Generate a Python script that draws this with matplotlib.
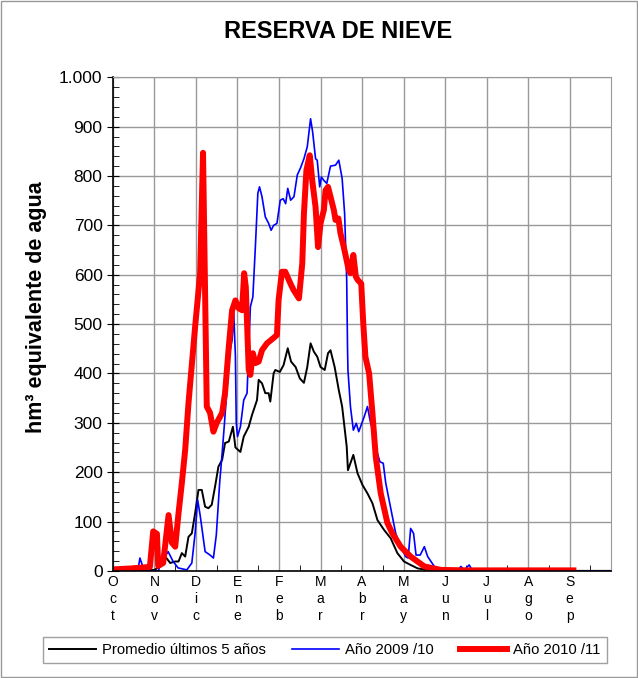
import numpy as np
import matplotlib
matplotlib.use("Agg")
import matplotlib.pyplot as plt
from matplotlib.patches import Rectangle

plt.rcParams['font.family'] = ['Liberation Sans', 'DejaVu Sans']

# x = months since 1 Oct, y = hm3
meses = ["O\nc\nt", "N\no\nv", "D\ni\nc", "E\nn\ne", "F\ne\nb", "M\na\nr",
         "A\nb\nr", "M\na\ny", "J\nu\nn", "J\nu\nl", "A\ng\no", "S\ne\np"]
yticks = [0, 100, 200, 300, 400, 500, 600, 700, 800, 900, 1000]
ylabels = ["0", "100", "200", "300", "400", "500", "600", "700", "800", "900", "1.000"]

prom_x = [0, 1.0, 1.14, 1.26, 1.38, 1.50, 1.58, 1.66, 1.74, 1.82, 1.90, 1.98, 2.06, 2.14,
          2.22, 2.30, 2.38, 2.46, 2.54, 2.63, 2.70, 2.79, 2.89, 2.95, 3.07, 3.15, 3.27,
          3.35, 3.47, 3.51, 3.59, 3.67, 3.75, 3.79, 3.87, 3.91, 4.02, 4.11, 4.21, 4.29,
          4.40, 4.50, 4.60, 4.68, 4.76, 4.84, 4.92, 5.00, 5.10, 5.18, 5.24, 5.34, 5.44,
          5.52, 5.63, 5.66, 5.79, 5.89, 6.01, 6.13, 6.25, 6.37, 6.53, 6.69, 6.85, 7.01,
          7.17, 7.34, 7.58, 8.0, 12.0]
prom_y = [0, 2, 9, 29, 16, 19, 19, 36, 29, 69, 76, 117, 164, 164,
          130, 127, 134, 171, 211, 225, 259, 262, 292, 250, 241, 272, 292,
          316, 346, 387, 380, 360, 360, 343, 400, 407, 403, 417, 451, 424,
          413, 390, 381, 413, 461, 444, 434, 413, 407, 441, 447, 413, 366,
          333, 252, 204, 235, 198, 174, 157, 137, 103, 83, 66, 36, 19,
          12, 5, 2, 0, 0]

a09_x = [0, 0.60, 0.65, 0.73, 0.78, 1.10, 1.18, 1.26, 1.33, 1.45, 1.57, 1.78, 1.90, 1.98,
         2.04, 2.10, 2.22, 2.34, 2.42, 2.49, 2.57, 2.63, 2.68, 2.81, 2.87, 2.91, 2.95,
         2.97, 3.00, 3.07, 3.15, 3.23, 3.31, 3.37, 3.43, 3.49, 3.53, 3.59, 3.67, 3.75,
         3.81, 3.87, 3.95, 4.03, 4.10, 4.16, 4.21, 4.28, 4.36, 4.44, 4.52, 4.60, 4.68,
         4.76, 4.81, 4.88, 4.92, 4.98, 5.02, 5.08, 5.15, 5.24, 5.36, 5.44, 5.52, 5.58,
         5.63, 5.65, 5.66, 5.72, 5.79, 5.86, 5.92, 6.05, 6.13, 6.19, 6.29, 6.37, 6.43,
         6.51, 6.57, 6.65, 6.73, 6.81, 6.93, 7.05, 7.11, 7.17, 7.24, 7.30, 7.40, 7.50,
         7.58, 7.74, 7.98, 8.30, 8.38, 8.46, 8.58, 8.66, 12.0]
a09_y = [0, 0, 26, 6, 0, 0, 32, 30, 39, 19, 6, 2, 16, 77,
         144, 113, 39, 32, 26, 73, 178, 238, 292, 441, 468, 522, 434,
         300, 272, 292, 346, 360, 535, 555, 656, 765, 778, 758, 717, 704,
         690, 700, 704, 751, 754, 744, 775, 751, 758, 802, 817, 835, 859,
         916, 889, 835, 832, 778, 798, 791, 785, 820, 822, 832, 795, 724,
         589, 450, 407, 333, 285, 299, 282, 312, 333, 306, 272, 238, 221,
         218, 178, 144, 110, 76, 49, 29, 26, 86, 76, 32, 32, 49,
         29, 9, 2, 0, 9, 2, 12, 0, 0]

a10_x = [0, 0.45, 0.89, 0.97, 1.06, 1.09, 1.21, 1.34, 1.42, 1.50, 1.58, 1.66, 1.74, 1.82,
         1.98, 2.10, 2.17, 2.26, 2.34, 2.42, 2.50, 2.63, 2.70, 2.79, 2.87, 2.95, 3.03,
         3.11, 3.16, 3.20, 3.27, 3.31, 3.37, 3.43, 3.51, 3.59, 3.71, 3.87, 3.95, 3.99,
         4.07, 4.15, 4.27, 4.35, 4.48, 4.56, 4.60, 4.66, 4.74, 4.80, 4.88, 4.94, 5.00,
         5.08, 5.12, 5.18, 5.24, 5.32, 5.36, 5.43, 5.48, 5.56, 5.68, 5.72, 5.79, 5.85,
         5.90, 5.98, 6.03, 6.08, 6.17, 6.25, 6.33, 6.45, 6.61, 6.73, 6.93, 7.17, 7.50,
         7.90, 8.5, 11.09]
a10_y = [3, 5, 8, 80, 75, 10, 16, 113, 57, 49, 117, 178, 245, 340,
         495, 603, 847, 333, 320, 282, 300, 320, 360, 454, 528, 548, 532,
         528, 603, 575, 407, 397, 441, 421, 424, 447, 461, 472, 478, 549,
         606, 606, 583, 569, 552, 623, 724, 812, 842, 791, 737, 656, 704,
         731, 771, 778, 758, 731, 711, 714, 684, 656, 609, 603, 640, 596,
         589, 582, 500, 434, 400, 319, 231, 157, 97, 76, 49, 29, 9,
         2, 1, 1]

fig = plt.figure(figsize=(6.38, 6.78), dpi=100)
ax = fig.add_axes([0.177, 0.158, 0.781, 0.728])

ax.plot(prom_x, prom_y, color="black", lw=1.4, label="Promedio últimos 5 años")
ax.plot(a09_x, a09_y, color="#0000ff", lw=1.2, label="Año 2009 /10")
ax.plot(a10_x, a10_y, color="#ff0000", lw=4.3, solid_joinstyle="round",
        label="Año 2010 /11")

ax.set_xlim(0, 12)
ax.set_ylim(0, 1000)
ax.set_xticks(np.arange(12))
ax.set_xticklabels(meses, fontsize=10, linespacing=1.25)
ax.set_xticks(np.arange(12) + 0.5, minor=True)
ax.tick_params(axis="x", which="major", length=0, pad=3)
ax.tick_params(axis="x", which="minor", direction="in", length=4)
ax.set_yticks(yticks)
ax.set_yticklabels(ylabels, fontsize=12.5)
ax.set_yticks(np.arange(0, 1001, 20), minor=True)
ax.tick_params(axis="y", which="major", direction="inout", length=8)
ax.tick_params(axis="y", which="minor", direction="in", length=4)
ax.grid(True, which="major", color="#999999", lw=1)
ax.set_axisbelow(True)
for s in ["top", "right"]:
    ax.spines[s].set_color("#999999")
ax.spines["left"].set_linewidth(1.2)
ax.spines["bottom"].set_linewidth(1.2)

ax.set_ylabel("hm³ equivalente de agua", fontsize=15.5, fontweight="bold")
ax.yaxis.set_label_coords(-0.133, 0.534)
fig.text(0.53, 0.953, "RESERVA DE NIEVE", ha="center", va="center",
         fontsize=17, fontweight="bold")

leg = fig.legend(loc="center", ncol=3, bbox_to_anchor=(0.067, 0.018, 0.884, 0.047),
                 mode="expand", fontsize=10.7, handlelength=3.2, frameon=True,
                 fancybox=False, borderaxespad=0, handletextpad=0.4)
leg.get_frame().set_edgecolor("#888888")
leg.get_frame().set_linewidth(1)

fig.patches.append(Rectangle((0.001, 0.001), 0.997, 0.997, transform=fig.transFigure,
                             fill=False, edgecolor="#999999", lw=1))

fig.savefig("out.png", dpi=100)
